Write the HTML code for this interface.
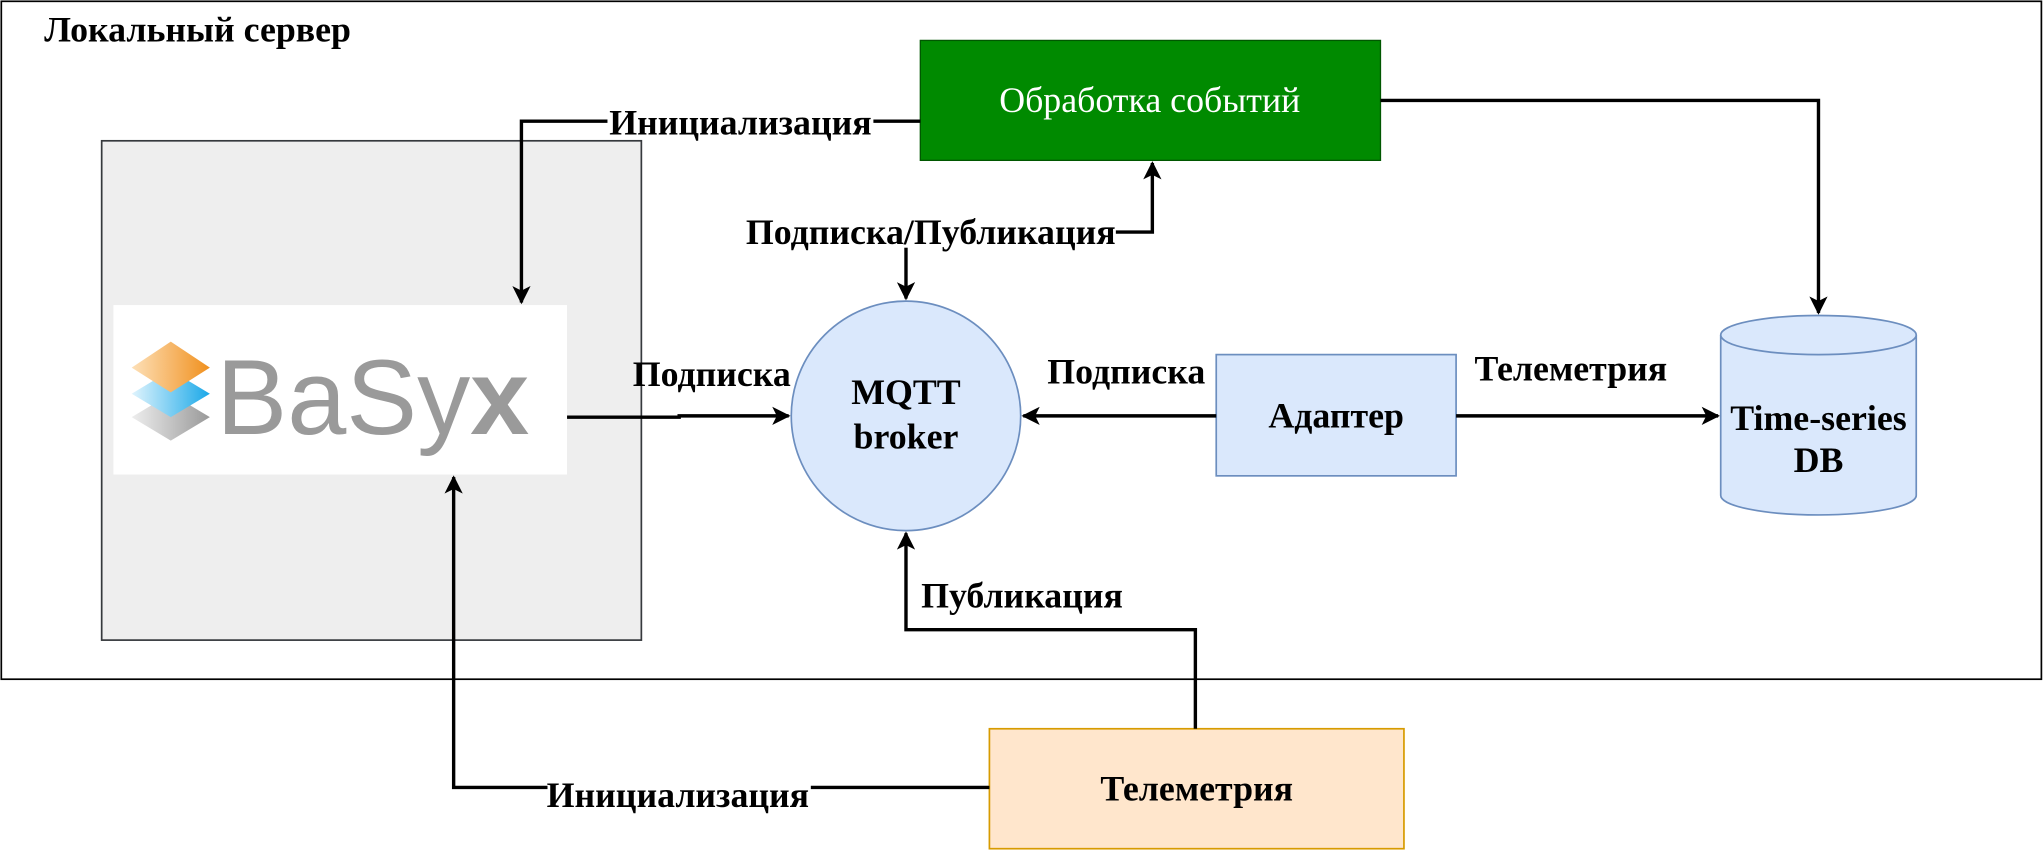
<!DOCTYPE html>
<html><head><meta charset="utf-8"><style>html,body{margin:0;padding:0;background:#fff}svg{display:block}</style></head>
<body>
<svg width="2044" height="850" viewBox="0 0 1568 652" preserveAspectRatio="none" xmlns="http://www.w3.org/2000/svg" font-family="Liberation Serif, serif">
<defs>
<marker id="a" viewBox="0 0 10 10" refX="9" refY="5" markerWidth="14" markerHeight="14" markerUnits="userSpaceOnUse" orient="auto"><path d="M0,0 L10,5 L0,10 L2.5,5 z" fill="#000"/></marker>
<linearGradient id="go" x1="0" y1="0" x2="1" y2="0"><stop offset="0" stop-color="#fde0b8"/><stop offset="1" stop-color="#f0901e"/></linearGradient>
<linearGradient id="gb" x1="0" y1="0" x2="1" y2="0"><stop offset="0" stop-color="#e0f4fd"/><stop offset="1" stop-color="#1aa8e8"/></linearGradient>
<linearGradient id="gg" x1="0" y1="0" x2="1" y2="0"><stop offset="0" stop-color="#eee"/><stop offset="1" stop-color="#999"/></linearGradient>
</defs>
<rect x="1" y="1" width="1565" height="520" fill="#fff" stroke="#000" stroke-width="1.3"/>
<text x="34" y="32" font-size="27.5" font-weight="bold">Локальный сервер</text>
<rect x="78" y="108" width="414" height="383" fill="#eeeeee" stroke="#36393d" stroke-width="1.3"/>
<rect x="87" y="234" width="348" height="130" fill="#fff"/>
<g>
<path d="M101,320 L131,302 L161,320 L131,338 z" fill="url(#gg)"/>
<path d="M101,302 L131,284 L161,302 L131,320 z" fill="url(#gb)"/>
<path d="M101,282 L131,262 L161,282 L131,301 z" fill="url(#go)"/>
<text x="166" y="333" font-family="Liberation Sans, sans-serif" font-size="82" fill="#9a9a9a" textLength="240" lengthAdjust="spacingAndGlyphs">BaSy<tspan font-weight="bold">x</tspan></text>
</g>
<rect x="706" y="31" width="353" height="92" fill="#008a00" stroke="#005700"/>
<text x="882" y="86" font-size="27.5" fill="#fff" text-anchor="middle">Обработка событий</text>
<circle cx="695" cy="319" r="88" fill="#dae8fc" stroke="#6c8ebf" stroke-width="1.3"/>
<text x="695" y="310" font-size="27.5" font-weight="bold" text-anchor="middle">MQTT</text>
<text x="695" y="344" font-size="27.5" font-weight="bold" text-anchor="middle">broker</text>
<rect x="933" y="272" width="184" height="93" fill="#dae8fc" stroke="#6c8ebf" stroke-width="1.3"/>
<text x="1025" y="328" font-size="27.5" font-weight="bold" text-anchor="middle">Адаптер</text>
<path d="M1320,257 L1320,380 A75,15 0 0 0 1470,380 L1470,257" fill="#dae8fc" stroke="#6c8ebf" stroke-width="1.3"/>
<ellipse cx="1395" cy="257" rx="75" ry="15" fill="#dae8fc" stroke="#6c8ebf" stroke-width="1.3"/>
<text x="1395" y="330" font-size="27.5" font-weight="bold" text-anchor="middle">Time-series</text>
<text x="1395" y="362" font-size="27.5" font-weight="bold" text-anchor="middle">DB</text>
<rect x="759" y="559" width="318" height="92" fill="#ffe6cc" stroke="#d79b00" stroke-width="1.3"/>
<text x="918" y="614" font-size="27.5" font-weight="bold" text-anchor="middle">Телеметрия</text>
<g fill="none" stroke="#000" stroke-width="2.6">
<path d="M706,93 L400,93 L400,232" marker-end="url(#a)"/>
<path d="M1059,77 L1395,77 L1395,240" marker-end="url(#a)"/>
<path d="M695,178 L695,229" marker-end="url(#a)"/>
<path d="M695,178 L884,178 L884,125" marker-end="url(#a)"/>
<path d="M435,320 L521,320 L521,319 L605,319" marker-end="url(#a)"/>
<path d="M933,319 L785,319" marker-end="url(#a)"/>
<path d="M1117,319 L1318,319" marker-end="url(#a)"/>
<path d="M917,559 L917,483 L695,483 L695,409" marker-end="url(#a)"/>
<path d="M759,604 L348,604 L348,366" marker-end="url(#a)"/>
</g>
<g font-size="27.5" font-weight="bold" text-anchor="middle">
<rect x="466" y="82" width="204" height="24" fill="#fff"/><text x="568" y="103">Инициализация</text>
<rect x="572" y="166" width="284" height="24" fill="#fff"/><text x="714" y="187">Подписка/Публикация</text>
<text x="546" y="296">Подписка</text>
<text x="864" y="294">Подписка</text>
<text x="1205" y="292">Телеметрия</text>
<text x="784" y="466">Публикация</text>
<rect x="420" y="596" width="202" height="26" fill="#fff"/><text x="520" y="619">Инициализация</text>
</g>
</svg>
</body></html>
